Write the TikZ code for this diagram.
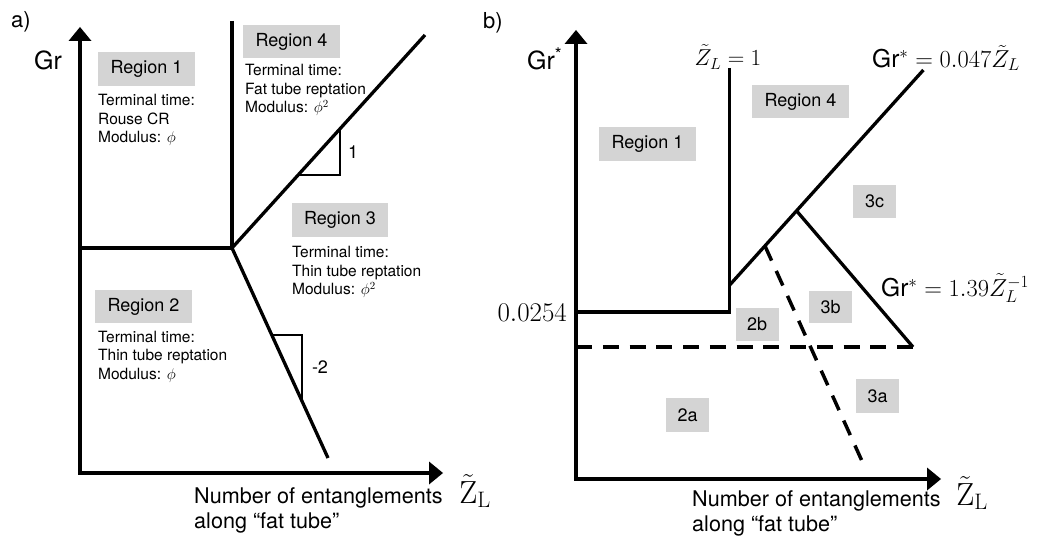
\RequirePackage{fix-cm}
\documentclass[tikz,border=0pt]{standalone}
\usepackage[no-math]{fontspec}
\setmainfont{TeX Gyre Heros}
\usetikzlibrary{arrows.meta}
\newcommand\myfs[2]{\fontsize{#1}{#2}\selectfont}
\begin{document}
\begin{tikzpicture}[x=1pt,y=-1pt,
  axis/.style={line width=4.7pt, line join=miter,
    {Triangle[width=23pt,length=14pt,line width=0pt]}-{Triangle[width=23pt,length=14pt,line width=0pt]}},
  phase/.style={line width=3.3pt},
  dashline/.style={line width=3.5pt, dash pattern=on 16pt off 10.75pt},
  slope/.style={line width=1.6pt},
  regbox/.style={fill=black!17, inner sep=0pt, font=\myfs{18}{20}},
  desc/.style={anchor=north west, align=left, inner sep=0pt, font=\myfs{15.5}{18.5}},
  axlab/.style={anchor=north west, align=left, inner sep=0pt, font=\myfs{21.6}{25.5}},
  eq/.style={inner sep=0pt, font=\myfs{24.5}{27}},
  zlab/.style={inner sep=0pt, font=\myfs{32}{34}},
  panel/.style={inner sep=0pt, font=\myfs{22}{24}},
]
\useasboundingbox (0,0) rectangle (1038,537);

% ---------------- panel a ----------------
\node[panel] (alab) at (21,22) {a)};
\coordinate (aO) at (80,473);
\coordinate (aYtop) at (80,27);
\coordinate (aXend) at (443,473);
\coordinate (aJ) at (232,248);
\coordinate (aVtop) at (232,21);
\coordinate (aL) at (80,248);
\coordinate (aUp) at (425,35);
\coordinate (aDown) at (328,458);

\draw[axis] (aYtop) -- (aO) -- (aXend);
\draw[phase] (aL) -- (aJ);
\draw[phase] (aVtop) -- (aJ);
\draw[phase] (aUp) -- (aJ) -- (aDown);

% slope triangles
\coordinate (s1a) at (298.1,175);
\coordinate (s1b) at (340,175);
\coordinate (s1c) at (340,128.8);
\draw[slope] (s1a) -- (s1b) -- (s1c);
\coordinate (s2a) at (271.8,335);
\coordinate (s2b) at (302,335);
\coordinate (s2c) at (302,401);
\draw[slope] (s2a) -- (s2b) -- (s2c);
\node[inner sep=0pt, font=\myfs{18}{20}] (one) at (353,152) {1};
\node[inner sep=0pt, font=\myfs{18}{20}] (mtwo) at (320,367) {-2};

\node[font=\myfs{25}{27}, inner sep=0pt] (aGr) at (48,60) {Gr};

\node[regbox, minimum width=97pt, minimum height=34pt] (aR1) at (146.5,69) {Region 1};
\node[desc] (aD1) at (98,94.5) {Terminal time:\\Rouse CR\\Modulus: $\phi$};
\node[regbox, minimum width=97pt, minimum height=33pt] (aR4) at (291.5,41.5) {Region 4};
\node[desc] (aD4) at (245,64.5) {Terminal time:\\Fat tube reptation\\Modulus: $\phi^2$};
\node[regbox, minimum width=96pt, minimum height=34pt] (aR3) at (340,220) {Region 3};
\node[desc] (aD3) at (292,246.5) {Terminal time:\\Thin tube reptation\\Modulus: $\phi^2$};
\node[regbox, minimum width=97pt, minimum height=33pt] (aR2) at (143.5,306.5) {Region 2};
\node[desc] (aD2) at (98,330.5) {Terminal time:\\Thin tube reptation\\Modulus: $\phi$};

\node[axlab] (aXl) at (194,487) {Number of entanglements\\along “fat tube”};
\node[zlab] (aZ) at (475,491) {$\tilde{\mathrm{Z}}_{\mathrm{L}}$};

% ---------------- panel b ----------------
\node[panel] (blab) at (493,23) {b)};
\coordinate (bO) at (576,479);
\coordinate (bYtop) at (576,30);
\coordinate (bXend) at (941,479);
\coordinate (bVtop) at (729.7,68);
\coordinate (bVbot) at (729.7,312);
\coordinate (bH) at (576,312);
\coordinate (bVs) at (729.7,285);
\coordinate (bUp) at (923.4,70);
\coordinate (bK) at (796.7,211);
\coordinate (bEnd) at (913,347);
\coordinate (bDh) at (576,347);
\coordinate (bDs) at (765,246);
\coordinate (bDe) at (861.5,460);

\draw[axis] (bYtop) -- (bO) -- (bXend);
\draw[phase] (bVtop) -- (bVbot) -- (bH);
\draw[phase] (bVs) -- (bUp);
\draw[phase] (bK) -- (bEnd);
\draw[dashline] (bDh) -- (bEnd);
\draw[dashline, dash pattern=on 16pt off 11.35pt] (bDs) -- (bDe);

\node[font=\myfs{25}{27}, inner sep=0pt, anchor=base west] (bGr) at (527,70) {Gr\textsuperscript{*}};
\node[eq, font=\myfs{23}{26}] (bZ1) at (728,57) {$\tilde{Z}_L = 1$};
\node[eq, anchor=west] (bEq1) at (872,58) {Gr$^{*} = 0.047\tilde{Z}_L$};
\node[eq, anchor=west] (bEq2) at (881,288) {Gr$^{*} = 1.39\tilde{Z}_L^{-1}$};
\node[eq, anchor=east, font=\myfs{27}{29}] (bTick) at (567,313) {$0.0254$};

\node[regbox, minimum width=96.5pt, minimum height=33pt] (bR4) at (800.5,101.5) {Region 4};
\node[regbox, minimum width=96.5pt, minimum height=34pt] (bR1) at (647.5,144) {Region 1};
\node[regbox, minimum width=43pt, minimum height=33pt] (b3c) at (874.5,201.5) {3c};
\node[regbox, minimum width=43pt, minimum height=32pt] (b3b) at (830.5,307) {3b};
\node[regbox, minimum width=43pt, minimum height=33pt] (b2b) at (757,324.5) {2b};
\node[regbox, minimum width=43pt, minimum height=34pt] (b3a) at (877.5,396) {3a};
\node[regbox, minimum width=43pt, minimum height=34pt] (b2a) at (687.5,415) {2a};

\node[axlab] (bXl) at (692,490) {Number of entanglements\\along “fat tube”};
\node[zlab] (bZ) at (972,493) {$\tilde{\mathrm{Z}}_{\mathrm{L}}$};
\end{tikzpicture}
\end{document}
